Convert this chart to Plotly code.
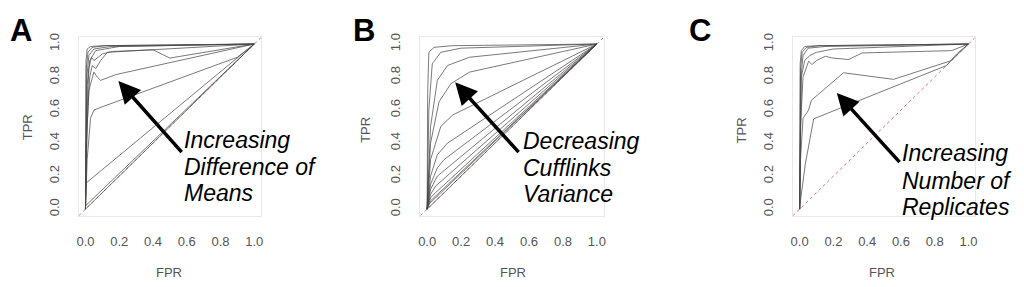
import plotly.graph_objects as go

# page body has an 8px margin, so the figure is shrunk and shifted by that much
OFF = 8
W, H = 1024 - OFF, 287 - OFF

# ---- data: ROC curves ----
# Panel A: increasing difference of means
a_fpr = [
    [0, 0.003, 0.01, 0.03, 0.1, 1],
    [0, 0.005, 0.015, 0.04, 0.12, 1],
    [0, 0.008, 0.02, 0.05, 0.15, 1],
    [0, 0.01, 0.025, 0.06, 0.2, 1],
    [0, 0.01, 0.02, 0.035, 0.05, 0.1, 0.16, 0.4, 0.5, 1],
    [0, 0.01, 0.025, 0.04, 0.06, 0.09, 0.13, 1],
    [0, 0.005, 0.02, 0.05, 0.07, 0.09, 0.18, 1],
    [0, 0.01, 0.03, 0.05, 0.1, 0.9, 1],
    [0, 0, 0.88, 1],
    [0, 0, 1],
    [0, 1],
]
a_tpr = [
    [0, 0.9, 0.97, 0.985, 0.99, 1],
    [0, 0.85, 0.95, 0.98, 0.99, 1],
    [0, 0.8, 0.93, 0.97, 0.985, 1],
    [0, 0.75, 0.9, 0.96, 0.985, 1],
    [0, 0.6, 0.85, 0.92, 0.9, 0.94, 0.955, 0.965, 0.915, 1],
    [0, 0.5, 0.8, 0.87, 0.85, 0.9, 0.95, 1],
    [0, 0.4, 0.72, 0.83, 0.8, 0.78, 0.815, 1],
    [0, 0.3, 0.55, 0.6, 0.62, 0.92, 1],
    [0, 0.155, 0.9, 1],
    [0, 0.02, 1],
    [0, 1],
]

# Panel B: decreasing cufflinks variance
b_fpr = [
    [0, 0.003, 0.01, 0.04, 0.15, 1],
    [0, 0.01, 0.03, 0.08, 0.2, 1],
    [0, 0.02, 0.06, 0.12, 0.25, 1],
    [0, 0.02, 0.07, 0.14, 0.25, 1],
    [0, 0.02, 0.08, 0.15, 1],
    [0, 0.02, 0.06, 0.12, 1],
    [0, 0.02, 0.06, 0.1, 1],
    [0, 0.02, 0.06, 1],
    [0, 0.02, 0.05, 1],
    [0, 0.02, 0.05, 1],
    [0, 0.02, 1],
    [0, 0.01, 1],
    [0, 1],
]
b_tpr = [
    [0, 0.7, 0.95, 0.98, 0.99, 1],
    [0, 0.6, 0.88, 0.95, 0.975, 1],
    [0, 0.5, 0.78, 0.87, 0.92, 1],
    [0, 0.4, 0.65, 0.76, 0.83, 1],
    [0, 0.3, 0.5, 0.57, 1],
    [0, 0.2, 0.33, 0.4, 1],
    [0, 0.15, 0.25, 0.3, 1],
    [0, 0.12, 0.2, 1],
    [0, 0.09, 0.14, 1],
    [0, 0.07, 0.1, 1],
    [0, 0.05, 1],
    [0, 0.03, 1],
    [0, 1],
]

# Panel C: increasing number of replicates
c_fpr = [
    [0, 0.003, 0.01, 0.03, 0.1, 1],
    [0, 0.005, 0.015, 0.04, 0.12, 1],
    [0, 0.008, 0.02, 0.05, 0.15, 1],
    [0, 0.005, 0.01, 0.03, 0.06, 0.1, 0.2, 1],
    [0, 0.005, 0.02, 0.053, 0.073, 0.1, 0.152, 0.19, 0.29, 0.37, 0.9, 1],
    [0, 0.005, 0.02, 0.053, 0.07, 0.26, 0.556, 0.9, 1],
    [0, 0.005, 0.033, 0.083, 0.87, 0.93, 1],
]
c_tpr = [
    [0, 0.88, 0.96, 0.985, 0.99, 1],
    [0, 0.84, 0.95, 0.98, 0.99, 1],
    [0, 0.8, 0.93, 0.975, 0.985, 1],
    [0, 0.5, 0.8, 0.9, 0.93, 0.95, 0.97, 1],
    [0, 0.5, 0.8, 0.896, 0.876, 0.9, 0.926, 0.916, 0.906, 0.946, 0.96, 1],
    [0, 0.3, 0.55, 0.6, 0.66, 0.826, 0.786, 0.9, 1],
    [0, 0.05, 0.27, 0.547, 0.87, 0.94, 1],
]

panel_letters = ["A", "B", "C"]
panel_text = [
    ["Increasing", "Difference of", "Means"],
    ["Decreasing", "Cufflinks", "Variance"],
    ["Increasing", "Number of", "Replicates"],
]
tick_vals = [0, 0.2, 0.4, 0.6, 0.8, 1.0]
tick_text = ["0.0", "0.2", "0.4", "0.6", "0.8", "1.0"]

# ---- layout helpers (pixel positions measured on the reference page) ----
def px(x):
    return (x - OFF) / W

def py(y):
    return 1 - (y - OFF) / H

x_doms = [(77, 260), (420, 604), (794, 977)]
y_dom = (214.7, 33.8)
arrow_pts = [((0.195, 0.776), (0.578, 0.336)),
             ((0.165, 0.768), (0.547, 0.336)),
             ((0.22, 0.704), (0.60, 0.276))]
text_left = [181, 521, 902]
text_rows = [[138, 165, 192], [139, 166, 193], [151, 179, 206]]
letter_x = [19, 363, 701]
tpr_pos = [(25, 125), (365, 128), (742, 128)]
fpr_pos = [(168, 272), (513, 272), (883, 272)]

fig = go.Figure()
all_curves = [(a_fpr, a_tpr), (b_fpr, b_tpr), (c_fpr, c_tpr)]
annotations = []
font_main = "Liberation Sans, Arial"

for i, (fprs, tprs) in enumerate(all_curves):
    xa = "x" if i == 0 else f"x{i + 1}"
    ya = "y" if i == 0 else f"y{i + 1}"
    # random-guess diagonal
    fig.add_trace(go.Scatter(x=[-0.04, 1.04], y=[-0.04, 1.04], mode="lines",
                             line=dict(color="#e07070", width=1, dash="dot"),
                             xaxis=xa, yaxis=ya, showlegend=False, hoverinfo="skip"))
    for f, t in zip(fprs, tprs):
        fig.add_trace(go.Scatter(x=f, y=t, mode="lines",
                                 line=dict(color="rgba(70,70,70,0.72)", width=1),
                                 xaxis=xa, yaxis=ya, showlegend=False))

    ax_common = dict(range=[-0.04, 1.04], tickvals=tick_vals, ticktext=tick_text,
                     showgrid=False, zeroline=False, showline=True, mirror=True,
                     linecolor="#e8e8e8", linewidth=1, ticks="",
                     tickfont=dict(family=font_main, size=13, color="#555"))
    fig.layout[("xaxis" if i == 0 else f"xaxis{i + 1}")] = dict(
        ax_common, domain=[px(x_doms[i][0]), px(x_doms[i][1])], anchor=ya,
        ticklabelstandoff=14)
    fig.layout[("yaxis" if i == 0 else f"yaxis{i + 1}")] = dict(
        ax_common, domain=[py(y_dom[0]), py(y_dom[1])], anchor=xa,
        tickangle=-90, ticklabelstandoff=14)

    # arrow
    (hx, hy), (tx, ty) = arrow_pts[i]
    annotations.append(dict(x=hx, y=hy, ax=tx, ay=ty, xref=xa, yref=ya, axref=xa, ayref=ya,
                            showarrow=True, arrowhead=2, arrowsize=1.25, arrowwidth=3.5,
                            arrowcolor="black", text=""))
    # italic label
    for line, yy in zip(panel_text[i], text_rows[i]):
        annotations.append(dict(x=px(text_left[i]), y=py(yy), xref="paper", yref="paper",
                                text=f"<i>{line}</i>", showarrow=False,
                                xanchor="left", yanchor="middle",
                                font=dict(family=font_main, size=23, color="black")))
    # panel letter, pinned to the top edge so it is not clipped
    annotations.append(dict(x=px(letter_x[i]), y=1, xref="paper", yref="paper",
                            text=f"<b>{panel_letters[i]}</b>", showarrow=False,
                            xanchor="center", yanchor="top", borderpad=0,
                            font=dict(family=font_main, size=31, color="black")))
    # axis titles
    annotations.append(dict(x=px(tpr_pos[i][0]), y=py(tpr_pos[i][1]), xref="paper", yref="paper",
                            text="TPR", textangle=-90, showarrow=False,
                            xanchor="center", yanchor="middle",
                            font=dict(family=font_main, size=13, color="#555")))
    annotations.append(dict(x=px(fpr_pos[i][0]), y=py(fpr_pos[i][1]), xref="paper", yref="paper",
                            text="FPR", showarrow=False,
                            xanchor="center", yanchor="middle",
                            font=dict(family=font_main, size=13, color="#555")))

fig.update_layout(width=W, height=H, margin=dict(l=0, r=0, t=0, b=0),
                  paper_bgcolor="white", plot_bgcolor="white",
                  annotations=annotations, showlegend=False)

fig.write_html("out.html")
